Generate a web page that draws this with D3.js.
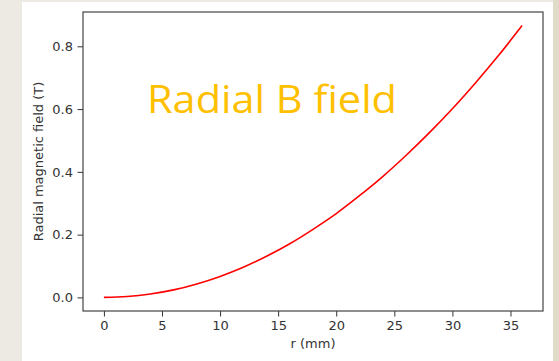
<!DOCTYPE html>
<html>
<head>
<meta charset="utf-8">
<script src="https://cdn.jsdelivr.net/npm/d3@7"></script>
<style>
  body { margin: 0; background: #eceae2; }
  svg { display: block; }
  .tick text { font-family: "DejaVu Sans", sans-serif; font-size: 13px; fill: #333; }
</style>
</head>
<body>
<script>
let width = 559,
    height = 361;

// radius in mm
const radius = [0, 2, 4, 6, 8, 10, 12, 14, 16, 18, 20, 22, 24, 26, 28, 30, 32, 34, 36];
// radial field in T
const field = [0.000, 0.003, 0.011, 0.024, 0.043, 0.067, 0.096, 0.131, 0.171, 0.217,
               0.267, 0.324, 0.385, 0.452, 0.524, 0.601, 0.684, 0.772, 0.866];

const xTicks = [0, 5, 10, 15, 20, 25, 30, 35];
const yTicks = [0.0, 0.2, 0.4, 0.6, 0.8];

const margin = {left: 83, top: 12, right: 543, bottom: 311};

const x = d3.scaleLinear()
    .domain([-1.8, 37.8])
    .range([margin.left, margin.right]);

const y = d3.scaleLinear()
    .domain([-0.0433, 0.9093])
    .range([margin.bottom, margin.top]);

const svg = d3.select("body").append("svg")
    .attr("width", width)
    .attr("height", height);

// slide background
svg.append("rect")
    .attr("x", 0).attr("y", 0)
    .attr("width", width).attr("height", height)
    .attr("fill", "#eceae2");
svg.append("rect")
    .attr("x", 553).attr("y", 0)
    .attr("width", width - 553).attr("height", height)
    .attr("fill", "#e0dcc8");
svg.append("rect")
    .attr("x", 22).attr("y", 2)
    .attr("width", 553 - 22).attr("height", height - 2)
    .attr("fill", "#ffffff");

// axes
const xAxis = svg.append("g")
    .attr("transform", "translate(0," + margin.bottom + ")")
    .call(d3.axisBottom(x).tickValues(xTicks).tickSize(5.5).tickPadding(4).tickFormat(d3.format("d")));

const yAxis = svg.append("g")
    .attr("transform", "translate(" + margin.left + ",0)")
    .call(d3.axisLeft(y).tickValues(yTicks).tickSize(5.5).tickPadding(4.5).tickFormat(d3.format(".1f")));

[xAxis, yAxis].forEach(function (a) {
    a.select(".domain").remove();
    a.selectAll(".tick line").attr("stroke", "#333");
});

// frame
svg.append("rect")
    .attr("x", margin.left)
    .attr("y", margin.top)
    .attr("width", margin.right - margin.left)
    .attr("height", margin.bottom - margin.top)
    .attr("fill", "none")
    .attr("stroke", "#444")
    .attr("stroke-width", 1.2);

// curve
const line = d3.line()
    .x(function (d, i) { return x(radius[i]); })
    .y(function (d) { return y(d); })
    .curve(d3.curveMonotoneX);

svg.append("path")
    .datum(field)
    .attr("d", line)
    .attr("fill", "none")
    .attr("stroke", "#ff0000")
    .attr("stroke-width", 1.6);

// axis labels
svg.append("text")
    .attr("x", (margin.left + margin.right) / 2)
    .attr("y", 348)
    .attr("text-anchor", "middle")
    .style("font-family", "DejaVu Sans, sans-serif")
    .style("font-size", "13px")
    .attr("fill", "#333")
    .text("r (mm)");

svg.append("text")
    .attr("transform", "translate(43," + (margin.top + margin.bottom) / 2 + ") rotate(-90)")
    .attr("text-anchor", "middle")
    .style("font-family", "DejaVu Sans, sans-serif")
    .style("font-size", "13px")
    .attr("fill", "#333")
    .text("Radial magnetic field (T)");

// overlay title
svg.append("text")
    .attr("x", 147)
    .attr("y", 113)
    .attr("textLength", 250)
    .attr("lengthAdjust", "spacingAndGlyphs")
    .style("font-family", "Open Sans, sans-serif")
    .style("font-size", "38px")
    .attr("fill", "#ffc000")
    .text("Radial B field");
</script>
</body>
</html>
